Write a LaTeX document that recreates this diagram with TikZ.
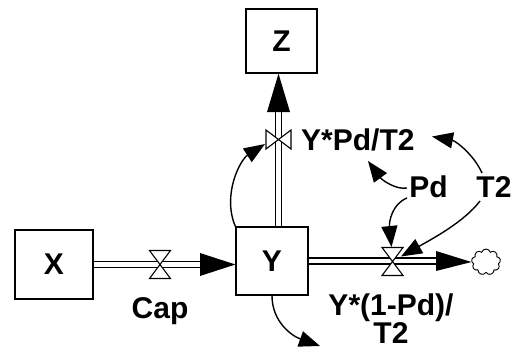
\documentclass[tikz,border=0pt]{standalone}
\usepackage{fontspec}
\setmainfont{Liberation Sans}
\usetikzlibrary{arrows.meta,shapes.symbols}
\begin{document}
\begin{tikzpicture}[x=1pt,y=-1pt,
  lbl/.style={font=\fontsize{30}{31}\selectfont\bfseries, inner sep=0pt},
  stock/.style={draw, line width=1.3pt, fill=white, inner sep=0pt, font=\fontsize{30}{31}\selectfont\bfseries},
  pipe/.style={double, double distance=4.6pt, line width=1.3pt},
  valve/.style={draw, fill=white, line width=1.1pt, line join=miter},
  link/.style={line width=1.4pt, -{Triangle[length=21pt,width=16pt]}},
  vvalve/.pic={\draw[valve] (-10.5,-14) -- (10.5,-14) -- (-10.5,14) -- (10.5,14) -- cycle;},
  hvalve/.pic={\draw[valve] (-12.5,-9.5) -- (-12.5,9.5) -- (12.5,-9.5) -- (12.5,9.5) -- cycle;}]
\useasboundingbox (0,0) rectangle (512,348);

% stocks
\node[stock, minimum width=78pt, minimum height=69pt] (X) at (54,264.5) {X};
\node[stock, minimum width=72pt, minimum height=68pt] (Y) at (272,261) {Y};
\node[stock, minimum width=71pt, minimum height=64pt] (Z) at (281.5,41) {Z};
\node[cloud, cloud puffs=9, draw, line width=0.9pt, inner sep=0pt, minimum width=29pt, minimum height=26pt] (cloud) at (486,262) {};

% valves positions
\coordinate (v1) at (160,264.5);
\coordinate (v2) at (278.5,139.5);
\coordinate (v3) at (392.5,261.5);

% pipes
\draw[pipe] (X.east) -- (200,264.5);
\fill (200,253) -- (Y.west |- X.east) -- (200,276) -- cycle;
\draw[pipe] (Y.north -| v2) -- (278.5,112);
\fill (267,112) -- (Z.south -| v2) -- (290,112) -- cycle;
\draw[pipe] (Y.east) -- (436,261);
\fill (436,251) -- (cloud.west) -- (436,271) -- cycle;

\pic at (v1) {vvalve};
\pic at (v2) {hvalve};
\pic at (v3) {vvalve};

% labels
\node[lbl, anchor=base] (cap) at (160,318) {Cap};
\node[lbl, anchor=west] (f2) at (301,140) {Y*Pd/T2};
\node[lbl, anchor=base] (pd) at (428.5,197) {Pd};
\node[lbl, anchor=base] (t2) at (494,197) {T2};
\node[lbl, anchor=base] (f3a) at (391,315) {Y*(1-Pd)/};
\node[lbl, anchor=base] (f3b) at (391,343) {T2};

% links
\coordinate (v2in) at (265,144);
\coordinate (f2in) at (368,161);
\coordinate (f2in2) at (432,136.5);
\coordinate (v3in) at (391.5,247);
\coordinate (v3in2) at (401,256.5);
\coordinate (out) at (320,346);
\draw[link] (Y.north west) .. controls (222,195) and (240,160) .. (v2in);
\draw[link] (Y.south) .. controls (272,322) and (292,336) .. (out);
\draw[link] (407,188) .. controls (396,190) and (382,180) .. (f2in);
\draw[link] (482,173) .. controls (474,155) and (456,141) .. (f2in2);
\draw[link] (407,198) .. controls (392,204) and (389,222) .. (v3in);
\draw[link] (480,201) .. controls (464,222) and (432,239) .. (v3in2);
\end{tikzpicture}
\end{document}
